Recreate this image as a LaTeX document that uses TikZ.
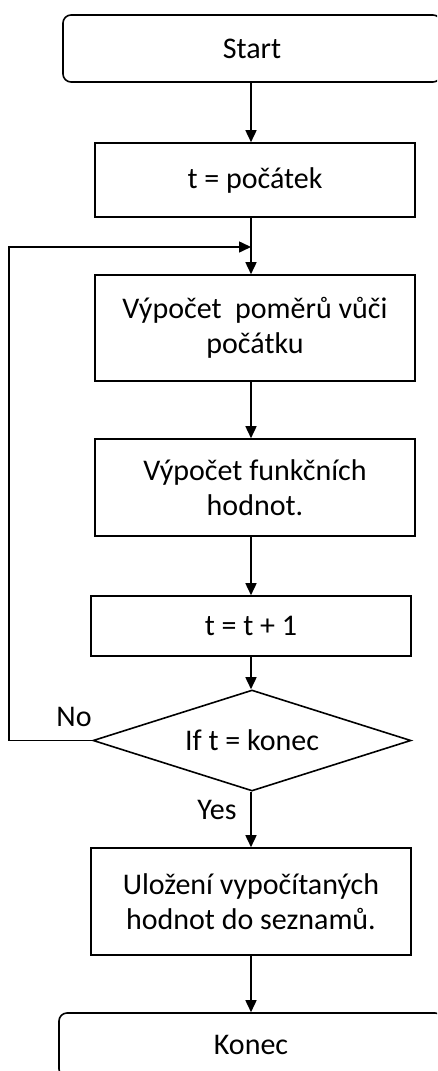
\documentclass[tikz,border=0pt]{standalone}
\usepackage{fontspec}
\setmainfont{Carlito}
\usetikzlibrary{arrows.meta,shapes.geometric}
\begin{document}
\begin{tikzpicture}[x=1pt,y=-1pt,
  line width=1.6pt,
  box/.style={draw,rectangle,align=center,inner sep=0pt,font=\fontsize{30}{35}\selectfont},
  term/.style={box,rounded corners=8pt},
  dec/.style={draw,diamond,inner sep=0pt,font=\fontsize{30}{35}\selectfont},
  lbl/.style={font=\fontsize{30}{35}\selectfont,inner sep=0pt},
  arr/.style={-{Triangle[width=11pt,length=12pt]}}
]
\useasboundingbox (0,0) rectangle (437,1071);
\clip (0,0) rectangle (437,1071);
\node[term,minimum width=378pt,minimum height=67pt] (start) at (252,48.5) {Start};
\node[box,minimum width=320pt,minimum height=74pt] (init) at (255,180) {t = počátek};
\node[box,minimum width=320pt,minimum height=106pt] (ratio) at (255,328) {Výpočet\ \ poměrů vůči\\počátku};
\node[box,minimum width=320pt,minimum height=97pt] (func) at (255,487.5) {Výpočet funkčních\\hodnot.};
\node[box,minimum width=320pt,minimum height=60pt] (inc) at (251,626) {t = t + 1};
\node[dec,minimum width=318pt,minimum height=101pt,aspect=3.15] (cond) at (252,740.5) {If t = konec};
\node[box,minimum width=320pt,minimum height=107pt] (save) at (251,901.5) {Uložení vypočítaných\\hodnot do seznamů.};
\node[term,minimum width=384pt,minimum height=64pt] (end) at (251,1045) {Konec};
\coordinate (merge) at (251,247);
\coordinate (lc) at (9,740.5);
\coordinate (tc) at (9,247);
\draw[arr] (start.south -| 251,0) -- (init.north -| 251,0);
\draw[arr] (init.south -| 251,0) -- (ratio.north -| 251,0);
\draw[arr] (ratio.south -| 251,0) -- (func.north -| 251,0);
\draw[arr] (func.south -| 251,0) -- (inc.north -| 251,0);
\draw[arr] (inc.south -| 251,0) -- (cond.north -| 251,0);
\draw[arr] (cond.south -| 251,0) -- (save.north -| 251,0);
\draw[arr] (save.south -| 251,0) -- (end.north -| 251,0);
\draw[arr] (cond.west) -- (lc) -- (tc) -- (merge);
\node[lbl] (no) at (74,717) {No};
\node[lbl] (yes) at (217,810) {Yes};
\end{tikzpicture}
\end{document}
